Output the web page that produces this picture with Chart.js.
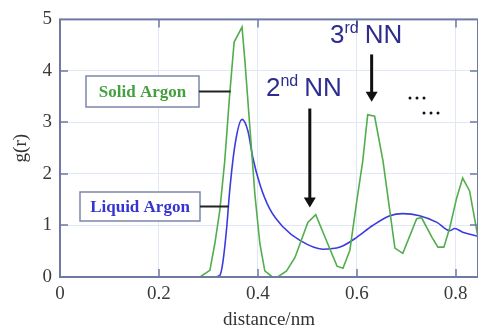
<!DOCTYPE html>
<html>
<head>
<meta charset="utf-8">
<script src="https://cdn.jsdelivr.net/npm/chart.js@4/dist/chart.umd.min.js"></script>
<style>
  html, body { margin: 0; padding: 0; background: #fff; }
  #wrap { width: 478px; height: 331px; position: relative; }
</style>
</head>
<body>
<div id="wrap"><canvas id="gr"></canvas></div>
<script>
// ---- data ----
const solidR = [0, 0.283, 0.303, 0.313, 0.323, 0.333, 0.343, 0.352, 0.368, 0.374, 0.384, 0.394, 0.404, 0.414, 0.428, 0.440,
    0.458, 0.475, 0.501, 0.517, 0.541, 0.560, 0.572, 0.586, 0.600, 0.612, 0.622, 0.636, 0.653, 0.677, 0.693,
    0.721, 0.731, 0.752, 0.764, 0.776, 0.788, 0.802, 0.814, 0.828, 0.845];
const solidG = [0, 0, 0.13, 0.65, 1.29, 2.25, 3.54, 4.56, 4.85, 4.17, 2.88, 1.6, 0.65, 0.12, 0.01, 0,
    0.12, 0.38, 1.06, 1.21, 0.65, 0.21, 0.17, 0.52, 1.48, 2.25, 3.15, 3.12, 2.25, 0.56, 0.46,
    1.13, 1.15, 0.77, 0.58, 0.58, 0.96, 1.54, 1.92, 1.67, 0.77];

const liquidR = [0, 0.313, 0.323, 0.329, 0.337, 0.343, 0.354, 0.368, 0.380, 0.390, 0.404, 0.424, 0.451, 0.485, 0.531,
    0.566, 0.600, 0.632, 0.667, 0.693, 0.727, 0.762, 0.788, 0.798, 0.814, 0.845];
const liquidG = [0, 0, 0.03, 0.27, 0.96, 1.67, 2.58, 3.06, 2.83, 2.31, 1.8, 1.32, 0.97, 0.71, 0.54,
    0.58, 0.77, 1.0, 1.19, 1.23, 1.19, 1.06, 0.9, 0.94, 0.87, 0.79];

const xTicks = [0, 0.2, 0.4, 0.6, 0.8];
const yTicks = [0, 1, 2, 3, 4, 5];

const AXIS = '#6f7aa3';
const GRID = '#e0e7f5';
const SERIF = '"Liberation Serif", "DejaVu Serif", serif';
const SANS = '"Liberation Sans", Arial, sans-serif';

const toPoints = (xs, ys) => xs.map((x, i) => ({ x: x, y: ys[i] }));

// frame, inner tick marks, labels and arrows
const decorations = {
    id: 'decorations',
    afterDraw(chart) {
        const { ctx, chartArea: a, scales: { x, y } } = chart;
        ctx.save();

        // frame
        ctx.strokeStyle = AXIS;
        ctx.lineWidth = 2;
        ctx.strokeRect(a.left, a.top, a.right - a.left, a.bottom - a.top);

        // inner ticks
        ctx.lineWidth = 1.5;
        xTicks.slice(1).forEach(v => {
            const px = Math.round(x.getPixelForValue(v));
            ctx.beginPath();
            ctx.moveTo(px, a.bottom); ctx.lineTo(px, a.bottom - 8);
            ctx.moveTo(px, a.top); ctx.lineTo(px, a.top + 8);
            ctx.stroke();
        });
        yTicks.slice(1, -1).forEach(v => {
            const py = Math.round(y.getPixelForValue(v));
            ctx.beginPath();
            ctx.moveTo(a.left, py); ctx.lineTo(a.left + 8, py);
            ctx.moveTo(a.right, py); ctx.lineTo(a.right - 8, py);
            ctx.stroke();
        });

        // labelled boxes
        function box(text, color, bx, by, bw, bh, lineTo) {
            ctx.fillStyle = '#fff';
            ctx.fillRect(bx, by, bw, bh);
            ctx.strokeStyle = '#7c86aa';
            ctx.lineWidth = 1.5;
            ctx.strokeRect(bx, by, bw, bh);
            ctx.fillStyle = color;
            ctx.font = 'bold 17px ' + SERIF;
            ctx.textAlign = 'center';
            ctx.textBaseline = 'middle';
            ctx.fillText(text, bx + bw / 2, by + bh / 2 + 1);
            ctx.strokeStyle = '#222';
            ctx.lineWidth = 2;
            ctx.beginPath();
            ctx.moveTo(bx + bw, by + bh / 2);
            ctx.lineTo(lineTo, by + bh / 2);
            ctx.stroke();
        }
        box('Solid Argon', '#45a040', 86, 76, 113, 31, x.getPixelForValue(0.345));
        box('Liquid Argon', '#3434d4', 80, 192, 120, 29, x.getPixelForValue(0.341));

        // arrows
        function arrow(r, g0, g1) {
            const px = x.getPixelForValue(r);
            const y0 = y.getPixelForValue(g0);
            const y1 = y.getPixelForValue(g1);
            ctx.strokeStyle = '#111';
            ctx.fillStyle = '#111';
            ctx.lineWidth = 3;
            ctx.beginPath();
            ctx.moveTo(px, y0); ctx.lineTo(px, y1 - 8);
            ctx.stroke();
            ctx.beginPath();
            ctx.moveTo(px - 6, y1 - 10); ctx.lineTo(px + 6, y1 - 10); ctx.lineTo(px, y1);
            ctx.closePath();
            ctx.fill();
        }
        arrow(0.505, 3.27, 1.35);
        arrow(0.630, 4.32, 3.4);

        // NN labels with superscripts
        function nn(base, sup, left, baseline) {
            ctx.fillStyle = '#2d2d8f';
            ctx.textAlign = 'left';
            ctx.textBaseline = 'alphabetic';
            ctx.font = '26px ' + SANS;
            ctx.fillText(base, left, baseline);
            let w = ctx.measureText(base).width;
            ctx.font = '16px ' + SANS;
            ctx.fillText(sup, left + w, baseline - 10);
            w += ctx.measureText(sup).width + 6;
            ctx.font = '26px ' + SANS;
            ctx.fillText('NN', left + w, baseline);
        }
        nn('2', 'nd', 266, 96);
        nn('3', 'rd', 330, 43);

        // dots
        ctx.fillStyle = '#111';
        [[410, 98], [417, 98], [424, 98], [424, 113], [431, 113], [438, 113]].forEach(([dx, dy]) => {
            ctx.beginPath();
            ctx.arc(dx, dy, 1.5, 0, Math.PI * 2);
            ctx.fill();
        });

        ctx.restore();
    }
};

new Chart(document.getElementById('gr'), {
    type: 'scatter',
    data: {
        datasets: [
            {
                label: 'Solid Argon',
                data: toPoints(solidR, solidG),
                showLine: true,
                borderColor: '#52ad4c',
                borderWidth: 1.6,
                pointRadius: 0,
                tension: 0
            },
            {
                label: 'Liquid Argon',
                data: toPoints(liquidR, liquidG),
                showLine: true,
                borderColor: '#3b3be0',
                borderWidth: 1.6,
                pointRadius: 0,
                tension: 0.4,
                cubicInterpolationMode: 'monotone'
            }
        ]
    },
    options: {
        responsive: true,
        maintainAspectRatio: false,
        animation: false,
        layout: { padding: { top: 17, right: 0, left: 0, bottom: 0 } },
        plugins: {
            legend: { display: false },
            tooltip: { enabled: false }
        },
        scales: {
            x: {
                type: 'linear',
                min: 0,
                max: 0.845,
                afterBuildTicks: s => { s.ticks = xTicks.map(v => ({ value: v })); },
                afterFit: s => { s.height = 54; },
                grid: { color: GRID, drawTicks: false, lineWidth: 1 },
                border: { display: false },
                ticks: {
                    color: '#3a3a3a',
                    padding: 6,
                    font: { family: SERIF, size: 19 },
                    callback: v => String(v)
                },
                title: {
                    display: true,
                    text: 'distance/nm',
                    color: '#333',
                    padding: { top: 0, bottom: 0 },
                    font: { family: SERIF, size: 19 }
                }
            },
            y: {
                min: 0,
                max: 5,
                afterBuildTicks: s => { s.ticks = yTicks.map(v => ({ value: v })); },
                afterFit: s => { s.width = 60; },
                grid: { color: GRID, drawTicks: false, lineWidth: 1 },
                border: { display: false },
                ticks: {
                    color: '#3a3a3a',
                    padding: 8,
                    font: { family: SERIF, size: 19 }
                },
                title: {
                    display: true,
                    text: 'g(r)',
                    color: '#333',
                    padding: { top: 10, bottom: 0 },
                    font: { family: SERIF, size: 19 }
                }
            }
        }
    },
    plugins: [decorations]
});
</script>
</body>
</html>
